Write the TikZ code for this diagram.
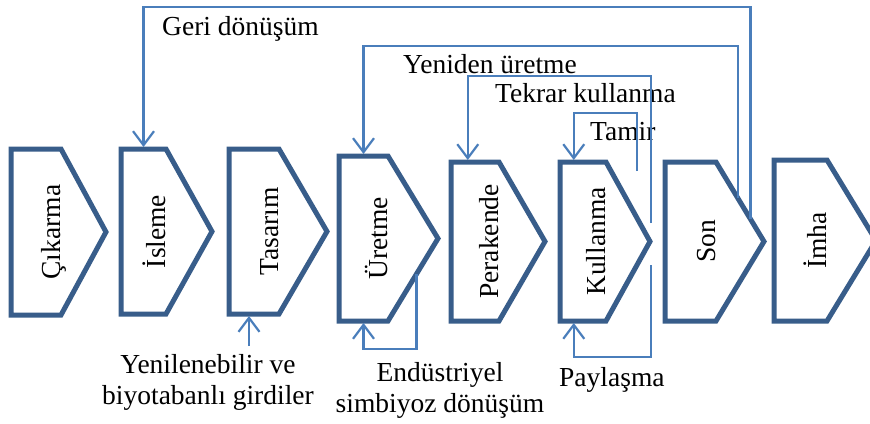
\documentclass[tikz,border=0pt]{standalone}
\usepackage{fontspec}
\setmainfont{Liberation Serif}
\usetikzlibrary{arrows.meta, positioning, calc}
\definecolor{stageblue}{HTML}{385D8A}
\definecolor{linkblue}{HTML}{4A7EBB}

\begin{document}
\begin{tikzpicture}[x=1pt, y=-1pt, font=\fontsize{27.5}{31}\selectfont,
    stagebox/.style={draw=stageblue, line width=5pt, fill=white, line join=miter},
    looplink/.style={draw=linkblue, line width=2.2pt},
    looparrow/.style={looplink, shorten >=2pt, -{Straight Barb[length=14pt, width=21pt]}},
    lbl/.style={inner sep=0pt}]
    \useasboundingbox (0,0) rectangle (870,423);

    % stages: name / left / corner / tip / top / bottom / text
    \foreach \nm/\lx/\cx/\tx/\ty/\by/\txt in {
        cik/11/61/106/149/315/Çıkarma,
        ise/121/166/212/149/314/İsleme,
        tas/229/279/327/149/314/Tasarım,
        ure/339/388/438/156/321/Üretme,
        per/451/499/545/162/321/Perakende,
        kul/560/606/650/162/321/Kullanma,
        son/665/716/764/162/321/Son,
        imh/774/827/876/160/321/İmha}
    {
        \draw[stagebox] (\lx,\ty) coordinate (\nm-nw) -- (\cx,\ty) coordinate (\nm-ne)
            -- (\tx,{(\ty+\by)/2}) coordinate (\nm-tip) -- (\cx,\by) coordinate (\nm-se)
            -- (\lx,\by) coordinate (\nm-sw) -- cycle;
        \node[rotate=90, anchor=base] (\nm) at (\cx-1,{(\ty+\by)/2}) {\txt};
    }

    % labels
    \node[lbl, anchor=base west] (geri) at (162,35) {Geri dönüşüm};
    \node[lbl, anchor=base west] (yeni) at (403,73) {Yeniden üretme};
    \node[lbl, anchor=base west] (tekrar) at (495,102) {Tekrar kullanma};
    \node[lbl, anchor=base west] (tamir) at (590,140) {Tamir};
    \node[lbl, anchor=base west] (paylas) at (559,386) {Paylaşma};
    \node[lbl, align=center, anchor=north] (girdi) at (208,354) {Yenilenebilir ve\\biyotabanlı girdiler};
    \node[lbl, align=center, anchor=north] (ortak) at (440,362) {Endüstriyel\\simbiyoz dönüşüm};

    % levels of the loops
    \coordinate (geri-top) at (0,7);
    \coordinate (yeni-top) at (0,46);
    \coordinate (tekrar-top) at (0,76);
    \coordinate (tamir-top) at (0,113);
    \coordinate (ortak-bot) at (0,349);
    \coordinate (paylas-bot) at (0,357);
    % where the loops leave
    \coordinate (geri-out) at ($(son-ne)!0.72!(son-tip)$);
    \coordinate (yeni-out) at ($(son-ne)!0.45!(son-tip)$);
    \coordinate (tekrar-out) at (651,223);
    \coordinate (tamir-out) at (637,171);
    \coordinate (paylas-out) at (651,265);
    \coordinate (ortak-out) at ($(ure-tip)!0.43!(ure-se)$);
    \coordinate (tas-in) at ($(tas-sw)!0.4!(tas-se)$);

    \draw[looparrow] (geri-out) -- (geri-out |- geri-top) -| ($(ise-nw)!0.5!(ise-ne)$);
    \draw[looparrow] (yeni-out) -- (yeni-out |- yeni-top) -| ($(ure-nw)!0.5!(ure-ne)$);
    \draw[looparrow] (tekrar-out) -- (tekrar-out |- tekrar-top) -| ($(per-nw)!0.35!(per-ne)$);
    \draw[looparrow] (tamir-out) -- (tamir-out |- tamir-top) -| ($(kul-nw)!0.3!(kul-ne)$);
    \draw[looparrow] (paylas-out) -- (paylas-out |- paylas-bot) -| ($(kul-sw)!0.3!(kul-se)$);
    \draw[looparrow] (ortak-out) -- (ortak-out |- ortak-bot) -| ($(ure-sw)!0.5!(ure-se)$);
    \draw[looparrow] ($(girdi.north -| tas-in)+(0,-8)$) -- (tas-in);
\end{tikzpicture}
\end{document}
